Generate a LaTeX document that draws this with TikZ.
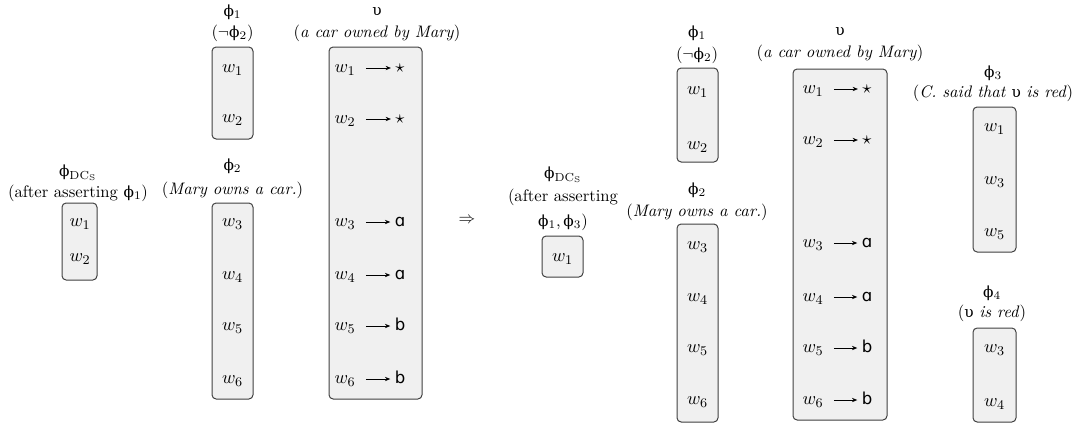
\documentclass[tikz,border=0pt]{standalone}
\usepackage{fontspec}
\usetikzlibrary{arrows.meta}
% upright Greek letters and the single-storey value letters
\newfontfamily\grk[Scale=0.92]{DejaVu Serif}
\newfontfamily\valfont[Scale=0.9]{DejaVu Sans}
\newcommand\myphi{{\grk ϕ}}
\newcommand\myups{{\grk υ}}
\newcommand\va{{\valfont ɑ}}
\newcommand\vb{{\valfont b}}
\begin{document}
\begin{tikzpicture}[x=0.6pt,y=-0.6pt,
  cell/.style={draw=black!75, fill=black!6, rounded corners=2.5pt, line width=0.6pt, inner sep=0pt},
  world/.style={inner sep=1pt, font=\fontsize{11}{13}\selectfont, text height=1.6ex, text depth=.4ex},
  lbl/.style={inner sep=0pt},
  map/.style={-{Stealth[length=3.2pt,width=2.6pt]}, line width=0.5pt, shorten <=5pt, shorten >=1.5pt}]
\useasboundingbox (0,0) rectangle (1076,426);

% ---------- before the assertion ----------
\node[cell, minimum width=21pt,   minimum height=46.2pt]  (dcA) at (79.5,241.5) {};
\node[cell, minimum width=24.6pt, minimum height=55.2pt]  (p1A) at (232.5,93) {};
\node[cell, minimum width=24.6pt, minimum height=117.6pt] (p2A) at (232.5,301) {};
\node[cell, minimum width=55.8pt, minimum height=211.2pt] (uA)  at (375.5,223) {};

\node[lbl] (dcAn) at (78,173) {\myphi$_{\mathrm{DC}_\mathrm{S}}$};
\node[lbl] (dcAd) at (78,193) {(after asserting \myphi$_1$)};
\node[world] (dcAw1) at (80,222) {$w_1$};
\node[world] (dcAw2) at (80,257) {$w_2$};

\node[lbl] (p1An) at (232.5,12) {\myphi$_1$};
\node[lbl] (p1Ad) at (232.5,33) {($\neg$\myphi$_2$)};
\node[world] (p1Aw1) at (232.5,68) {$w_1$};
\node[world] (p1Aw2) at (232.5,118) {$w_2$};

\node[lbl] (p2An) at (232.5,166) {\myphi$_2$};
\node[lbl] (p2Ad) at (232.5,190) {(\textit{Mary owns a car.})};
\foreach \i/\y in {3/222,4/275,5/326,6/379}
  \node[world] (p2Aw\i) at (232.5,\y) {$w_\i$};

\node[lbl] (uAn) at (377,12) {\myups};
\node[lbl] (uAd) at (377,33) {(\textit{a car owned by Mary})};
\foreach \i/\y/\v in {1/68/$\star$,2/119/$\star$,3/222/\va,4/275/\va,5/326/\vb,6/379/\vb}{
  \node[world] (uAw\i) at (345,\y) {$w_\i$};
  \node[world] (uAv\i) at (400,\y) {\v};
  \draw[map] (uAw\i) -- (uAv\i);
}

\node[lbl] (imp) at (467,220) {$\Rightarrow$};

% ---------- after the assertion ----------
\node[cell, minimum width=24.6pt, minimum height=24.6pt]  (dcB) at (562.5,256.5) {};
\node[cell, minimum width=24.6pt, minimum height=56.4pt]  (p1B) at (697.5,115) {};
\node[cell, minimum width=24.6pt, minimum height=118.8pt] (p2B) at (697.5,323) {};
\node[cell, minimum width=56.4pt, minimum height=210.6pt] (uB)  at (840,244.5) {};
\node[cell, minimum width=25.8pt, minimum height=87pt]    (p3B) at (994.5,179.5) {};
\node[cell, minimum width=25.8pt, minimum height=56.4pt]  (p4B) at (994.5,375) {};

\node[lbl] (dcBn) at (563,175) {\myphi$_{\mathrm{DC}_\mathrm{S}}$};
\node[lbl] (dcBd) at (563,197) {(after asserting};
\node[lbl] (dcBe) at (563,222) {\myphi$_1$,\,\myphi$_3$)};
\node[world] (dcBw1) at (562.5,257) {$w_1$};

\node[lbl] (p1Bn) at (697,33) {\myphi$_1$};
\node[lbl] (p1Bd) at (697,55) {($\neg$\myphi$_2$)};
\node[world] (p1Bw1) at (697.5,90) {$w_1$};
\node[world] (p1Bw2) at (697.5,145) {$w_2$};

\node[lbl] (p2Bn) at (697,190) {\myphi$_2$};
\node[lbl] (p2Bd) at (697,212) {(\textit{Mary owns a car.})};
\foreach \i/\y in {3/245,4/297,5/348,6/400}
  \node[world] (p2Bw\i) at (697.5,\y) {$w_\i$};

\node[lbl] (uBn) at (840,32) {\myups};
\node[lbl] (uBd) at (840,53) {(\textit{a car owned by Mary})};
\foreach \i/\y/\v in {1/89/$\star$,2/140/$\star$,3/243/\va,4/297/\va,5/348/\vb,6/400/\vb}{
  \node[world] (uBw\i) at (813,\y) {$w_\i$};
  \node[world] (uBv\i) at (867,\y) {\v};
  \draw[map] (uBw\i) -- (uBv\i);
}

\node[lbl] (p3Bn) at (993,73) {\myphi$_3$};
\node[lbl] (p3Bd) at (993,93) {(\textit{C. said that} \myups\ \textit{is red})};
\foreach \i/\y in {1/127,3/180,5/232}
  \node[world] (p3Bw\i) at (994.5,\y) {$w_\i$};

\node[lbl] (p4Bn) at (992,293) {\myphi$_4$};
\node[lbl] (p4Bd) at (992,313) {(\myups\ \textit{is red})};
\foreach \i/\y in {3/348,4/402}
  \node[world] (p4Bw\i) at (994.5,\y) {$w_\i$};
\end{tikzpicture}
\end{document}
